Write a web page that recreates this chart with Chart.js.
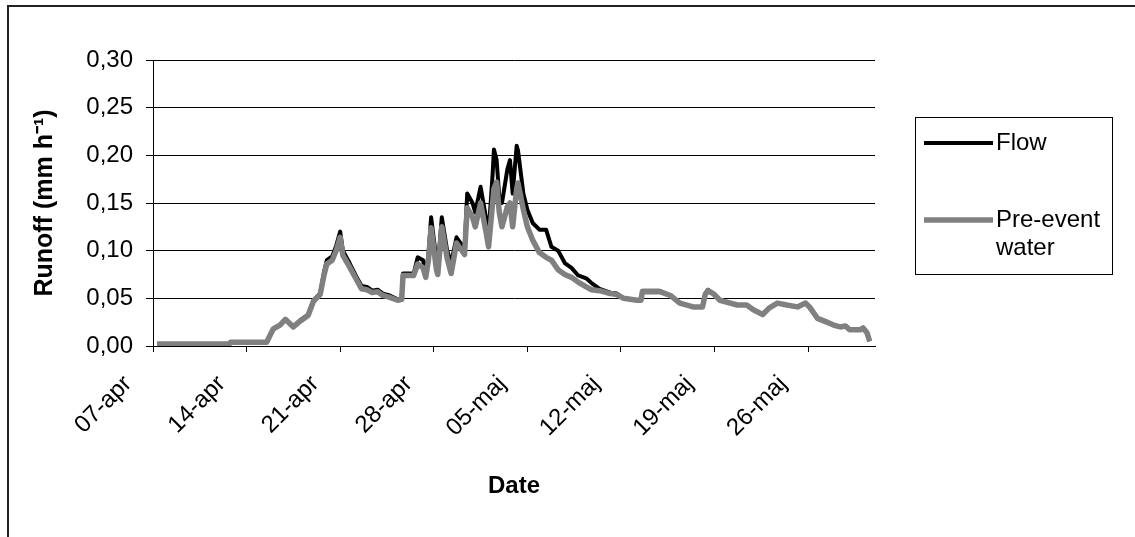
<!DOCTYPE html>
<html><head><meta charset="utf-8">
<script src="https://cdn.jsdelivr.net/npm/chart.js@4.4.0/dist/chart.umd.min.js"></script>
<style>html,body{margin:0;padding:0;background:#fff;}#wrap{width:1135px;height:537px;position:relative;}</style>
</head><body><div id="wrap"><canvas id="c" width="1135" height="537"></canvas></div>
<script>
// x values: days after 07-apr
const days = [0.3,5.7,5.8,8.5,9.0,9.5,9.9,10.5,11.0,11.6,12.0,12.5,12.8,13.0,13.4,13.7,14.0,14.2,14.7,15.2,15.6,16.0,16.4,16.8,17.2,17.7,18.3,18.6,18.7,19.5,19.8,20.2,20.4,20.6,20.8,21.2,21.3,21.6,22.0,22.3,22.7,23.0,23.3,23.5,23.9,24.1,24.5,24.9,25.1,25.4,25.5,25.7,25.9,26.1,26.5,26.7,26.9,27.2,27.3,27.7,28.0,28.4,28.9,29.4,29.8,30.3,30.8,31.3,31.8,32.4,32.8,33.4,34.2,34.7,35.2,36.2,36.5,36.6,37.9,38.7,39.4,40.4,41.1,41.3,41.5,41.9,42.4,42.9,43.7,44.4,44.9,45.6,46.1,46.7,47.4,48.2,48.8,49.1,49.7,50.4,50.9,51.4,51.8,52.1,52.9,53.1,53.4,53.6];
const flow = [0.002,0.002,0.004,0.004,0.018,0.022,0.028,0.020,0.027,0.033,0.048,0.055,0.078,0.090,0.094,0.105,0.120,0.100,0.087,0.073,0.063,0.062,0.058,0.059,0.055,0.053,0.049,0.050,0.076,0.076,0.093,0.090,0.075,0.095,0.135,0.090,0.082,0.135,0.100,0.087,0.114,0.108,0.101,0.160,0.150,0.140,0.167,0.135,0.118,0.180,0.206,0.195,0.156,0.150,0.185,0.195,0.160,0.210,0.205,0.160,0.143,0.129,0.122,0.122,0.104,0.100,0.087,0.082,0.074,0.071,0.066,0.060,0.056,0.055,0.050,0.048,0.048,0.058,0.058,0.053,0.045,0.041,0.041,0.055,0.059,0.055,0.048,0.046,0.043,0.043,0.038,0.033,0.040,0.045,0.043,0.041,0.045,0.041,0.029,0.025,0.022,0.020,0.021,0.017,0.017,0.019,0.014,0.005];
const preEvent = [0.002,0.002,0.004,0.004,0.018,0.022,0.028,0.020,0.026,0.032,0.047,0.054,0.075,0.086,0.090,0.100,0.114,0.095,0.083,0.070,0.060,0.059,0.056,0.057,0.053,0.051,0.048,0.049,0.074,0.074,0.086,0.082,0.072,0.090,0.124,0.080,0.075,0.125,0.092,0.076,0.108,0.102,0.096,0.145,0.135,0.125,0.150,0.120,0.104,0.150,0.165,0.172,0.140,0.125,0.146,0.150,0.125,0.165,0.171,0.143,0.125,0.111,0.098,0.093,0.090,0.080,0.075,0.072,0.067,0.062,0.059,0.058,0.055,0.054,0.050,0.048,0.048,0.057,0.057,0.053,0.045,0.041,0.041,0.054,0.058,0.055,0.048,0.046,0.043,0.043,0.038,0.033,0.040,0.045,0.043,0.041,0.045,0.041,0.029,0.025,0.022,0.020,0.021,0.017,0.017,0.019,0.014,0.005];
const seriesNames = ['Flow', 'Pre-event water'];
const xTickDays = [0,7,14,21,28,35,42,49];
const xTickLabels = ['07-apr','14-apr','21-apr','28-apr','05-maj','12-maj','19-maj','26-maj'];
const yTickValues = [0,0.05,0.10,0.15,0.20,0.25,0.30];
const yTickLabels = ['0,00','0,05','0,10','0,15','0,20','0,25','0,30'];
const xTitle = 'Date';
const yTitle = 'Runoff (mm h\u207B\u00B9)';

const FONT = 'Liberation Sans, Arial, sans-serif';
const FS = 24;

const framePlugin = {
  id: 'frame',
  beforeDraw(chart) {
    const ctx = chart.ctx;
    ctx.save();
    ctx.fillStyle = '#fff';
    ctx.fillRect(0, 0, chart.width, chart.height);
    ctx.strokeStyle = '#222';
    ctx.lineWidth = 2;
    ctx.strokeRect(8, 6, 1200, 700);
    ctx.restore();
  }
};

const legendPlugin = {
  id: 'boxLegend',
  afterDraw(chart) {
    const ctx = chart.ctx;
    ctx.save();
    ctx.strokeStyle = '#000';
    ctx.lineWidth = 1;
    ctx.strokeRect(915.5, 117.5, 197, 157);
    ctx.font = FS + 'px ' + FONT;
    ctx.fillStyle = '#000';
    ctx.textBaseline = 'middle';
    ctx.textAlign = 'left';
    const rows = [143, 220];
    [0, 1].forEach((di, k) => {
      const ds = chart.data.datasets[di];
      const y = rows[k];
      ctx.strokeStyle = ds.borderColor;
      ctx.lineWidth = ds.borderWidth;
      ctx.beginPath();
      ctx.moveTo(924, y);
      ctx.lineTo(993, y);
      ctx.stroke();
      const words = ds.label.split(' ');
      const lines = [];
      let cur = '';
      words.forEach(w => {
        const t = cur ? cur + ' ' + w : w;
        if (ctx.measureText(t).width > 114 && cur) { lines.push(cur); cur = w; } else cur = t;
      });
      lines.push(cur);
      lines.forEach((ln, j) => ctx.fillText(ln, 996, y + j * 28));
    });
    ctx.restore();
  }
};

new Chart(document.getElementById('c'), {
  type: 'line',
  data: {
    datasets: [
      { label: seriesNames[0], data: days.map((d, i) => ({ x: d, y: flow[i] })), borderColor: '#000000', borderWidth: 4, pointRadius: 0, tension: 0, fill: false, order: 1, borderJoinStyle: 'round' },
      { label: seriesNames[1], data: days.map((d, i) => ({ x: d, y: preEvent[i] })), borderColor: '#808080', borderWidth: 5.5, pointRadius: 0, tension: 0, fill: false, order: 0, borderJoinStyle: 'round' }
    ]
  },
  options: {
    responsive: false,
    animation: false,
    devicePixelRatio: 1,
    layout: { padding: { left: 30, top: 60, right: 260, bottom: 36 } },
    plugins: { legend: { display: false }, tooltip: { enabled: false } },
    scales: {
      x: {
        type: 'linear', min: 0, max: 54,
        afterBuildTicks: s => { s.ticks = xTickDays.map(v => ({ value: v })); },
        afterFit: s => { s.height = 155; },
        ticks: {
          autoSkip: false, minRotation: 45, maxRotation: 45,
          callback: v => xTickLabels[xTickDays.indexOf(v)],
          font: { family: FONT, size: FS }, color: '#000', padding: 18, labelOffset: -25
        },
        grid: { drawOnChartArea: false, drawTicks: true, tickLength: 6, color: '#000', lineWidth: 1 },
        border: { display: true, color: '#000', width: 1 },
        title: { display: true, text: xTitle, font: { family: FONT, size: FS, weight: 'bold' }, color: '#000', padding: 0 }
      },
      y: {
        type: 'linear', min: 0, max: 0.3,
        afterBuildTicks: s => { s.ticks = yTickValues.map(v => ({ value: v })); },
        afterFit: s => { s.width = 123; },
        ticks: {
          callback: v => yTickLabels[yTickValues.findIndex(t => Math.abs(t - v) < 1e-9)],
          font: { family: FONT, size: FS }, color: '#000', padding: 13
        },
        grid: { color: '#000', lineWidth: 1, tickLength: 7, drawTicks: true },
        border: { display: true, color: '#000', width: 1 },
        title: { display: true, text: yTitle, font: { family: FONT, size: 25, weight: 'bold' }, color: '#000', padding: 0 }
      }
    }
  },
  plugins: [framePlugin, legendPlugin]
});
</script></body></html>
